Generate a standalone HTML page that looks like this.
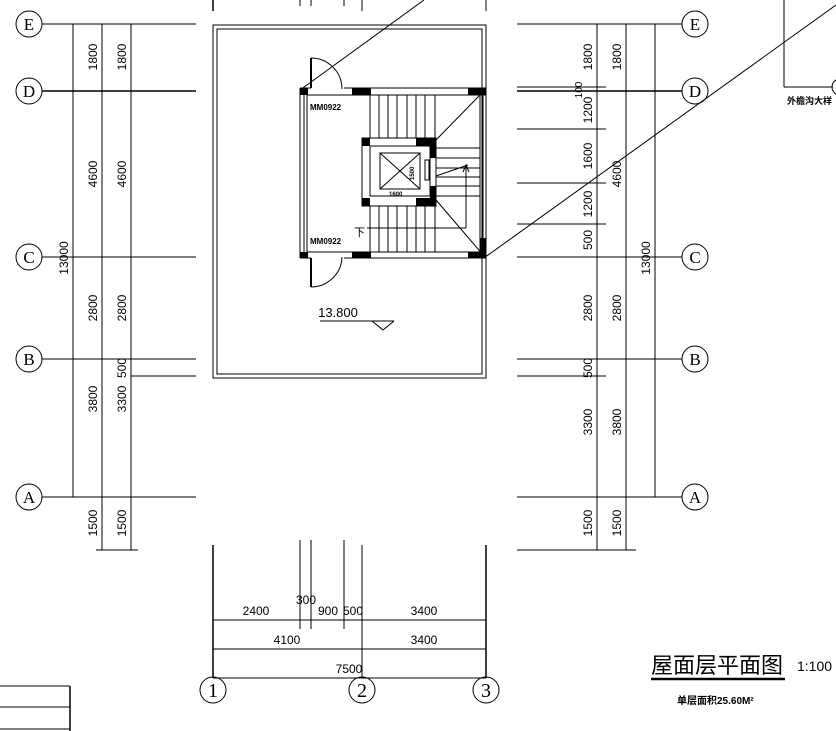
<!DOCTYPE html>
<html><head><meta charset="utf-8"><style>body{margin:0;background:#fff}svg{display:block}text{font-family:"Liberation Sans","Noto Sans CJK SC",sans-serif;fill:#000}.sf{font-family:"Liberation Serif",serif}.dm{font-size:12px;font-stretch:condensed}</style></head><body>
<svg width="836" height="731" viewBox="0 0 836 731" xmlns="http://www.w3.org/2000/svg">
<g stroke="#000" stroke-width="1" fill="none">
<line x1="42" y1="24" x2="196" y2="24"/><line x1="42" y1="91" x2="196" y2="91" stroke-width="1.5"/>
<line x1="42" y1="257" x2="196" y2="257"/><line x1="42" y1="359" x2="196" y2="359"/>
<line x1="131" y1="376" x2="196" y2="376"/><line x1="42" y1="497" x2="196" y2="497"/>
<line x1="96" y1="550" x2="138" y2="550"/>
<line x1="73" y1="24" x2="73" y2="497"/><line x1="102" y1="24" x2="102" y2="550"/><line x1="131" y1="24" x2="131" y2="550"/>
<circle cx="29" cy="24" r="13"/><circle cx="29" cy="91" r="13"/><circle cx="29" cy="257" r="13"/><circle cx="29" cy="359" r="13"/><circle cx="29" cy="497" r="13"/>
<line x1="517" y1="24" x2="682" y2="24"/><line x1="517" y1="91" x2="682" y2="91" stroke-width="1.5"/><line x1="517" y1="87" x2="606" y2="87"/>
<line x1="517" y1="129" x2="606" y2="129"/><line x1="517" y1="183" x2="606" y2="183"/><line x1="517" y1="224" x2="606" y2="224"/>
<line x1="517" y1="257" x2="682" y2="257"/><line x1="517" y1="359" x2="682" y2="359"/><line x1="517" y1="376" x2="606" y2="376"/>
<line x1="517" y1="497" x2="682" y2="497"/><line x1="517" y1="550" x2="636" y2="550"/>
<line x1="597" y1="24" x2="597" y2="550"/><line x1="626" y1="24" x2="626" y2="550"/><line x1="655" y1="24" x2="655" y2="497"/>
<circle cx="695" cy="24" r="13"/><circle cx="695" cy="91" r="13"/><circle cx="695" cy="257" r="13"/><circle cx="695" cy="359" r="13"/><circle cx="695" cy="497" r="13"/>
<line x1="213" y1="0" x2="213" y2="11" stroke-width="1.5"/><line x1="300" y1="0" x2="300" y2="6"/><line x1="311" y1="0" x2="311" y2="6"/><line x1="344" y1="0" x2="344" y2="6"/><line x1="362" y1="0" x2="362" y2="11"/><line x1="486" y1="0" x2="486" y2="11"/>
<rect x="213" y="25" width="273" height="353"/><rect x="217" y="29" width="265" height="345"/>
<line x1="213" y1="545" x2="213" y2="678" stroke-width="1.5"/><line x1="362" y1="545" x2="362" y2="678"/><line x1="486" y1="545" x2="486" y2="678" stroke-width="1.5"/>
<line x1="300" y1="540" x2="300" y2="629"/><line x1="311" y1="540" x2="311" y2="629"/><line x1="344" y1="540" x2="344" y2="629"/>
<line x1="213" y1="620" x2="486" y2="620"/><line x1="213" y1="649" x2="486" y2="649"/><line x1="213" y1="678" x2="486" y2="678"/>
<circle cx="213" cy="690" r="13"/><circle cx="362" cy="690" r="13"/><circle cx="486" cy="690" r="13"/>
<line x1="300" y1="88" x2="300" y2="258"/><line x1="304" y1="95" x2="304" y2="252"/><line x1="307" y1="95" x2="307" y2="252"/>
<line x1="300" y1="88" x2="311" y2="88"/><line x1="344" y1="88" x2="486" y2="88"/><line x1="307" y1="95" x2="486" y2="95"/>
<line x1="300" y1="258" x2="311" y2="258"/><line x1="344" y1="258" x2="486" y2="258"/><line x1="307" y1="252" x2="486" y2="252"/>
<line x1="311" y1="58" x2="311" y2="88" stroke-width="2"/><path d="M311 58 A31 31 0 0 1 342 89"/>
<line x1="311" y1="258" x2="311" y2="287" stroke-width="2"/><path d="M311 287 A31 31 0 0 0 342 257"/>
<line x1="480" y1="95" x2="480" y2="252"/><line x1="486" y1="88" x2="486" y2="258"/><line x1="483" y1="95" x2="483" y2="252"/>
<rect x="362" y="138" width="74" height="68"/><rect x="370" y="146" width="60" height="50"/>
<rect x="380" y="153" width="40" height="36"/><line x1="380" y1="153" x2="420" y2="189"/><line x1="420" y1="153" x2="380" y2="189"/>
<rect x="425" y="160" width="4" height="20"/>
<line x1="370" y1="95" x2="370" y2="138"/><line x1="379" y1="95" x2="379" y2="138"/><line x1="388" y1="95" x2="388" y2="138"/><line x1="397" y1="95" x2="397" y2="138"/><line x1="407" y1="95" x2="407" y2="138"/><line x1="416" y1="95" x2="416" y2="138"/><line x1="425" y1="95" x2="425" y2="138"/><line x1="435" y1="95" x2="435" y2="138"/>
<line x1="370" y1="206" x2="370" y2="252"/><line x1="379" y1="206" x2="379" y2="252"/><line x1="388" y1="206" x2="388" y2="252"/><line x1="397" y1="206" x2="397" y2="252"/><line x1="407" y1="206" x2="407" y2="252"/><line x1="416" y1="206" x2="416" y2="252"/><line x1="425" y1="206" x2="425" y2="252"/><line x1="435" y1="206" x2="435" y2="252"/>
<line x1="436" y1="148" x2="480" y2="148"/><line x1="436" y1="158" x2="480" y2="158"/><line x1="436" y1="168" x2="480" y2="168"/><line x1="436" y1="177" x2="480" y2="177"/><line x1="436" y1="186" x2="480" y2="186"/><line x1="436" y1="196" x2="480" y2="196"/>
<line x1="436" y1="140" x2="480" y2="95"/><line x1="436" y1="200" x2="484" y2="256"/>
<line x1="436" y1="176" x2="468" y2="165"/>
<line x1="367" y1="228" x2="466" y2="228"/><line x1="466" y1="228" x2="466" y2="165"/><path d="M463 172 L466 165 L469 172"/>
<line x1="300" y1="90" x2="424" y2="0"/><line x1="484" y1="258" x2="836" y2="5"/>
<line x1="784" y1="0" x2="784" y2="87"/><line x1="784" y1="87" x2="833" y2="87"/><circle cx="840" cy="87" r="8"/>
<line x1="320" y1="321" x2="394" y2="321"/><path d="M372 321 L383 330 L394 321"/>
<line x1="651" y1="679" x2="785" y2="679" stroke-width="2.5"/>
<line x1="0" y1="686" x2="70" y2="686"/><line x1="0" y1="707" x2="70" y2="707"/><line x1="0" y1="729" x2="70" y2="729"/><line x1="70" y1="686" x2="70" y2="731" stroke-width="1.5"/>
</g>
<g fill="#000">
<rect x="300" y="88" width="8" height="7"/><rect x="352" y="88" width="19" height="7"/><rect x="468" y="88" width="18" height="7"/>
<rect x="300" y="252" width="8" height="6"/><rect x="352" y="252" width="19" height="6"/><rect x="468" y="252" width="18" height="6"/>
<rect x="362" y="138" width="8" height="8"/><rect x="416" y="138" width="20" height="8"/><rect x="362" y="198" width="8" height="8"/><rect x="416" y="198" width="20" height="8"/>
<rect x="430" y="146" width="6" height="12"/><rect x="430" y="186" width="6" height="12"/>
<rect x="480" y="238" width="6" height="14"/>
</g>
<g text-anchor="middle" font-size="17">
<text class="sf" x="29" y="30">E</text><text class="sf" x="29" y="97">D</text><text class="sf" x="29" y="263">C</text><text class="sf" x="29" y="365">B</text><text class="sf" x="29" y="503">A</text>
<text class="sf" x="695" y="30">E</text><text class="sf" x="695" y="97">D</text><text class="sf" x="695" y="263">C</text><text class="sf" x="695" y="365">B</text><text class="sf" x="695" y="503">A</text>
<text class="sf" x="213" y="697" font-size="20">1</text><text class="sf" x="362" y="697" font-size="20">2</text><text class="sf" x="486" y="697" font-size="20">3</text>
</g>
<g text-anchor="middle" class="dm">
<text transform="translate(97,57) rotate(-90)">1800</text><text transform="translate(126,57) rotate(-90)">1800</text>
<text transform="translate(97,174) rotate(-90)">4600</text><text transform="translate(126,174) rotate(-90)">4600</text>
<text transform="translate(68,258) rotate(-90)">13000</text>
<text transform="translate(97,308) rotate(-90)">2800</text><text transform="translate(126,308) rotate(-90)">2800</text>
<text transform="translate(126,368) rotate(-90)">500</text>
<text transform="translate(97,399) rotate(-90)">3800</text><text transform="translate(126,399) rotate(-90)">3300</text>
<text transform="translate(97,523) rotate(-90)">1500</text><text transform="translate(126,523) rotate(-90)">1500</text>
<text transform="translate(592,57) rotate(-90)">1800</text><text transform="translate(621,57) rotate(-90)">1800</text>
<text transform="translate(582,90) rotate(-90)" font-size="10">100</text>
<text transform="translate(592,110) rotate(-90)">1200</text><text transform="translate(592,156) rotate(-90)">1600</text>
<text transform="translate(621,174) rotate(-90)">4600</text>
<text transform="translate(592,204) rotate(-90)">1200</text><text transform="translate(592,240) rotate(-90)">500</text>
<text transform="translate(650,258) rotate(-90)">13000</text>
<text transform="translate(592,308) rotate(-90)">2800</text><text transform="translate(621,308) rotate(-90)">2800</text>
<text transform="translate(592,368) rotate(-90)">500</text>
<text transform="translate(592,422) rotate(-90)">3300</text><text transform="translate(621,422) rotate(-90)">3800</text>
<text transform="translate(592,523) rotate(-90)">1500</text><text transform="translate(621,523) rotate(-90)">1500</text>
<text x="256" y="615">2400</text><text x="306" y="604">300</text><text x="328" y="615">900</text><text x="353" y="615">500</text><text x="424" y="615">3400</text>
<text x="287" y="644">4100</text><text x="424" y="644">3400</text><text x="349" y="673">7500</text>
<text x="338" y="317" font-size="13">13.800</text>
</g>
<g font-size="8" font-weight="bold">
<text x="310" y="110">MM0922</text><text x="310" y="244">MM0922</text>
<text x="389" y="196" font-size="6">1600</text>
<text transform="translate(414,180) rotate(-90)" font-size="6">1500</text>
<text x="354" y="236" font-size="11" font-weight="normal">下</text>
<text x="787" y="104" font-size="9">外檐沟大样</text>
</g>
<text x="651" y="673" font-size="22">屋面层平面图</text>
<text x="797" y="671" font-size="14">1:100</text>
<text x="677" y="704" font-size="10" font-weight="bold">单层面积25.60M²</text>
</svg>
</body></html>
